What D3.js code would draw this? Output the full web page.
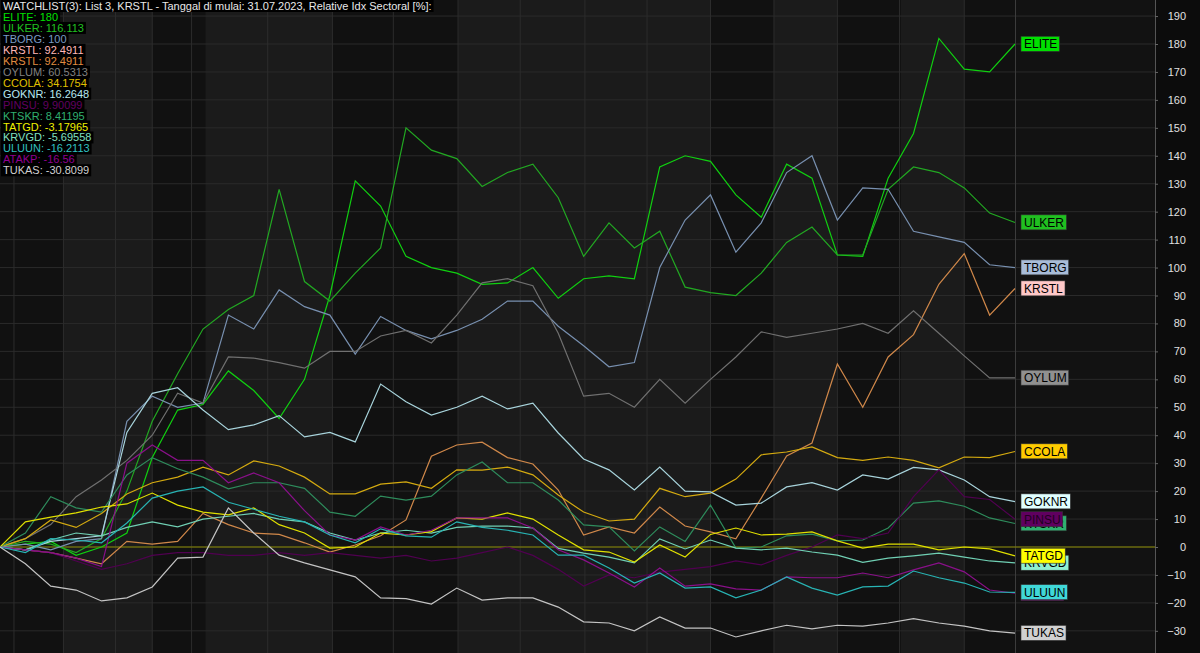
<!DOCTYPE html>
<html>
<head>
<meta charset="utf-8">
<script src="https://cdn.jsdelivr.net/npm/d3@7/dist/d3.min.js"></script>
<style>
  body { margin: 0; background: #111; }
  svg { display: block; font-family: "Liberation Sans", Arial, sans-serif; }
</style>
</head>
<body>
<svg id="chart" width="1200" height="653"></svg>
<script>
// sampled every 2 trading days from 31.07.2023 (41 points)
const ELITE = [0,1,2,-3,0,5,32,49,51,63,56,46,60,90,131,122,104,100,98,94,94.5,100,89,96,97,96,136,140,138,126,118,137,132,104.5,104,132,148,182,171,170,180];
const ULKER = [0,2,1,-2,3,20,45,62,78,85,90,128,95,88,98,107,150,142,139,129,134,137,125,104,116,107,113,93,91,90,98,109,114.5,104.5,104.5,128,136,134,128.5,119.5,116.113];
const TBORG = [0,1,-1,2,3,45,54,50,51.5,83,78,92,86,83,69,82.5,77.5,74.5,77.5,81.5,88,88,79,72,64.5,66,100,117,126,105.5,116,134,140,117,128.5,128,113,111,109,101,100];
const KRSTL = [0,-1,-2,-4,-6,2,1,2,12,8,5,4.5,1.5,-1.8,0.7,4,9.7,32.5,36.5,37.5,32,29.7,20.4,4.3,7.2,5,14.3,7.5,5.4,2.9,17.5,32.6,37.2,65.5,50,68,76,94,105,83,92.4911];
const OYLUM = [0,3,8,18,24,31,40,55,51.5,68,67.6,66,64,70,70,75.5,77.5,73,83,94.5,96,93.5,76.5,54,55,50,60,51.5,60,68,77,75,76.5,78,80,76.5,84.5,76.5,68.4,60.5,60.5313];
const CCOLA = [0,3,9.7,7,12,19,23,25,28.6,25.8,30.8,29,25,19,19,22.5,23.3,21,27.6,27.5,28.6,25.8,18.6,12.5,9.3,10,21,18,19.3,24.3,33,34,35.8,32,31,32.2,31,28.3,32.2,32,34.1754];
const GOKNR = [0,-1,2,3,4,41,55,57,49,42,43.7,47,39.4,41,37.6,58.3,52,47.2,50,54,49.4,51.5,40.8,31.5,27.6,20.4,28.6,20,19.7,15,15.7,21.5,23,20.4,25.8,24.3,28.5,27.6,24,18,16.2648];
const PINSU = [0,-1,-2,-5,-8,-6,-3,-2,-2,-3,-3,-2,-3,-2,-3,-4,-3,-5,-4,-2,0,-3,-8,-14,-10,-11,-9,-8,-7,-5,-6.4,-3,0,4.3,3,5,18,27.6,18,17,9.90099];
const KTSKR = [0,5,18,14,12.5,25.8,32,28,25,20.8,23,23,21,12.5,11,18.2,16.8,18.2,25.8,30.4,23,23,16.8,7.9,7.2,-1.4,7.2,2,15,-0.4,0,4,4.6,2.2,2.5,6.8,15.7,16.5,14.6,10.4,8.41195];
const TATGD = [0,9,10.7,12.2,14.3,15.4,19.3,15,12.5,11.5,14,8,5,-0.4,0,5,4.3,5.5,10.4,10,12.2,10,4.3,-1,-1.8,-5.4,0.7,-3.6,4.5,6.8,4.3,4.6,5.4,2.2,-0.4,1,1,-1,0,-0.7,-3.17965];
const KRVGD = [0,-1,2.5,5,4,7,9,7.2,10,11,12,10,9,5,2.5,5,6,5,7,7.5,7.5,6.8,-0.5,-2.2,-3.6,-5.7,2.9,-0.7,2.5,-0.4,-1,-0.4,-1.8,-2.9,-5.5,-4,-3.2,-2.2,-3.6,-5,-5.69558];
const ULUUN = [0,-2,3,2.5,1.5,8.6,17.5,20,21.5,16,13.5,11,9,4.3,1.5,6.5,4,3.5,9,7,6,4.3,-2.9,-2.9,-7.5,-12.9,-9.3,-14.7,-14.3,-18.2,-15.4,-10.7,-14.7,-17.2,-14.3,-14,-8.6,-11,-12.9,-16.1,-16.2113];
const ATAKP = [0,-1,-2,-4,-7,30,36.5,31,31,23,26.5,23,13,4.3,2.5,7.2,4.3,6,10.4,10.4,10.4,6.8,-1,-4.6,-9.3,-14.3,-7.5,-14,-13.2,-15,-15.4,-10.7,-11,-11,-9.3,-11,-8.2,-5.7,-8.9,-15.4,-16.56];
const TUKAS = [0,-6,-14,-15.4,-19.3,-18.2,-14.3,-4,-3.6,14,5,-2.9,-5.7,-8.2,-10.7,-18.2,-18.5,-20.4,-14.7,-19,-18.2,-18.2,-21.5,-26.8,-27.2,-30,-25,-29,-29,-32.2,-30,-28,-29.3,-28,-28.3,-27.2,-25.6,-27.2,-28.3,-30,-30.8099];

// drawing order: lower names get covered by the ones after them, as on the source chart
const names   = ["ELITE","ULKER","TBORG","KRSTL","OYLUM","CCOLA","GOKNR","KTSKR","PINSU","KRVGD","TATGD","ATAKP","ULUUN","TUKAS"];
const values  = [ELITE,ULKER,TBORG,KRSTL,OYLUM,CCOLA,GOKNR,KTSKR,PINSU,KRVGD,TATGD,ATAKP,ULUUN,TUKAS];
const lineCol = ["#10d010","#22a822","#7890b0","#d0884a","#707070","#d4aa10","#a8d4dc","#2e8c5c","#500050","#70d0b4","#e0e000","#8a108a","#28b4b4","#c4c4c4"];
const tagCol  = ["#00e000","#20c020","#a8bcd8","#ffc8c8","#909090","#ffcc00","#e0ffff","#30b070","#600060","#90f0d0","#ffff00","#900090","#40d8d8","#d0d0d0"];

// legend rows (KRSTL appears twice in the source)
const legendNames = ["ELITE","ULKER","TBORG","KRSTL","KRSTL","OYLUM","CCOLA","GOKNR","PINSU","KTSKR","TATGD","KRVGD","ULUUN","ATAKP","TUKAS"];
const legendVals  = ["180","116.113","100","92.4911","92.4911","60.5313","34.1754","16.2648","9.90099","8.41195","-3.17965","-5.69558","-16.2113","-16.56","-30.8099"];
const legendCol   = ["#00e000","#20c020","#7a9cc4","#ffb8b8","#e08c40","#808080","#e0c000","#b8e8f0","#600060","#30b070","#f0f000","#80e0c0","#30c0c0","#900090","#d0d0d0"];

const yTicks = d3.range(-30, 191, 10);
// weekly grid positions and lighter bands, in trading days (0..80)
const gridDays = [1.1,5,9.1,12,15.1,21.1,26.2,31,36.1,41,46.1,51,56,61,66,70.9,76];
const lightBands = [[5,12],[16.2,26.2],[36.1,56],[61,66],[71,76]];

const W = 1200, H = 653, plotR = 1015, axisX = 1155;
const svg = d3.select("#chart");
const x = d3.scaleLinear().domain([0, 40]).range([0, plotR]);
const xd = d3.scaleLinear().domain([0, 80]).range([0, plotR]);
const y = d3.scaleLinear().domain([0, 180]).range([547, 44]);

svg.append("rect").attr("width", W).attr("height", H).attr("fill", "#111");
svg.selectAll(".band").data(lightBands).join("rect")
  .attr("x", d => xd(d[0])).attr("width", d => xd(d[1]) - xd(d[0]))
  .attr("y", 0).attr("height", H).attr("fill", "#1b1b1b");
svg.append("rect").attr("x", plotR).attr("width", axisX - plotR).attr("height", H).attr("fill", "#121212");
svg.append("rect").attr("x", axisX).attr("width", W - axisX).attr("height", H).attr("fill", "#0c0c0c");

svg.selectAll(".hg").data(yTicks).join("line")
  .attr("x1", 0).attr("x2", axisX).attr("y1", d => y(d)).attr("y2", d => y(d))
  .attr("stroke", "#2a2a2a").attr("stroke-width", 1);
svg.selectAll(".vg").data(gridDays).join("line")
  .attr("x1", d => xd(d)).attr("x2", d => xd(d)).attr("y1", 0).attr("y2", H)
  .attr("stroke", "#2c2c2c").attr("stroke-width", 1);
svg.append("line").attr("x1", plotR + 0.5).attr("x2", plotR + 0.5).attr("y1", 0).attr("y2", H).attr("stroke", "#3c3c3c");
svg.append("line").attr("x1", axisX + 0.5).attr("x2", axisX + 0.5).attr("y1", 0).attr("y2", H).attr("stroke", "#555");

// right axis
const ax = svg.append("g").attr("transform", `translate(${axisX},0)`)
  .call(d3.axisRight(y).tickValues(yTicks).tickSize(3).tickPadding(28));
ax.select(".domain").remove();
ax.selectAll("line").attr("stroke", "#666");
ax.selectAll("text").attr("fill", "#e0e0e0").style("font-size", "11px").attr("text-anchor", "end");

// zero line
svg.append("line").attr("x1", 0).attr("x2", axisX).attr("y1", y(0)).attr("y2", y(0))
  .attr("stroke", "#8a8a00").attr("stroke-width", 1);

const line = d3.line().x((d, i) => x(i)).y(d => y(d));
values.forEach((v, k) => {
  svg.append("path").attr("d", line(v)).attr("fill", "none")
    .attr("stroke", lineCol[k]).attr("stroke-width", 1.2);
});

// end tags
values.forEach((v, k) => {
  const g = svg.append("g").attr("transform", `translate(1022,${y(v[v.length - 1])})`);
  const t = g.append("text").text(names[k]).attr("x", 2).attr("dy", "0.36em")
    .attr("fill", names[k] === "PINSU" || names[k] === "ATAKP" ? "#200020" : "#000").style("font-size", "12px");
  const b = t.node().getBBox();
  g.insert("rect", "text").attr("x", -1).attr("y", b.y - 1).attr("width", b.width + 5).attr("height", b.height + 1)
    .attr("fill", tagCol[k]).attr("stroke", "#333").attr("stroke-width", 0.6);
});

// legend
const leg = svg.append("g");
function legRow(txt, col, yy) {
  const t = leg.append("text").text(txt).attr("x", 3).attr("y", yy).attr("fill", col).style("font-size", "11px");
  const b = t.node().getBBox();
  leg.insert("rect", "text").attr("x", 1).attr("y", b.y).attr("width", b.width + 4).attr("height", b.height).attr("fill", "#000");
}
legRow("WATCHLIST(3): List 3, KRSTL - Tanggal di mulai: 31.07.2023, Relative Idx Sectoral [%]:", "#e8e8e8", 10);
legendNames.forEach((n, i) => legRow(`${n}: ${legendVals[i]}`, legendCol[i], 21 + i * 10.95));
</script>
</body>
</html>
